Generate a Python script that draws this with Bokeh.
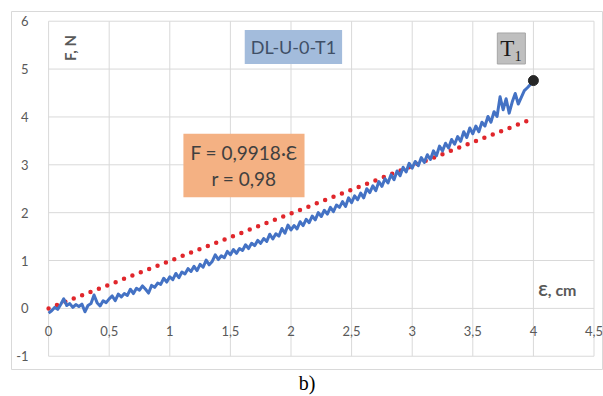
from bokeh.plotting import figure
from bokeh.models import Range1d, FixedTicker, Label, Title
from bokeh.embed import file_html
from bokeh.resources import INLINE

# ---- data ----
strain = [0.0, 0.025, 0.05, 0.075, 0.1, 0.125, 0.15, 0.175, 0.2, 0.225,
          0.25, 0.275, 0.3, 0.325, 0.35, 0.375, 0.4, 0.425, 0.45, 0.475,
          0.5, 0.525, 0.55, 0.575, 0.6, 0.625, 0.65, 0.675, 0.7, 0.725,
          0.75, 0.775, 0.8, 0.825, 0.85, 0.875, 0.9, 0.925, 0.95, 0.975,
          1.0, 1.025, 1.05, 1.075, 1.1, 1.125, 1.15, 1.175, 1.2, 1.225,
          1.25, 1.275, 1.3, 1.325, 1.35, 1.375, 1.4, 1.425, 1.45, 1.475,
          1.5, 1.525, 1.55, 1.575, 1.6, 1.625, 1.65, 1.675, 1.7, 1.725,
          1.75, 1.775, 1.8, 1.825, 1.85, 1.875, 1.9, 1.925, 1.95, 1.975,
          2.0, 2.025, 2.05, 2.075, 2.1, 2.125, 2.15, 2.175, 2.2, 2.225,
          2.25, 2.275, 2.3, 2.325, 2.35, 2.375, 2.4, 2.425, 2.45, 2.475,
          2.5, 2.525, 2.55, 2.575, 2.6, 2.625, 2.65, 2.675, 2.7, 2.725,
          2.75, 2.775, 2.8, 2.825, 2.85, 2.875, 2.9, 2.925, 2.95, 2.975,
          3.0, 3.025, 3.05, 3.075, 3.1, 3.125, 3.15, 3.175, 3.2, 3.225,
          3.25, 3.275, 3.3, 3.325, 3.35, 3.375, 3.4, 3.425, 3.45, 3.475,
          3.5, 3.525, 3.55, 3.575, 3.6, 3.625, 3.65, 3.675, 3.7, 3.725,
          3.75, 3.775, 3.8, 3.825, 3.85, 3.875, 3.9, 3.925, 3.95, 3.975,
          4.0]

force = [-0.10, -0.05, 0.02, -0.02, 0.08, 0.20, 0.06, 0.10, 0.02, 0.08,
         0.04, 0.09, -0.07, 0.06, 0.10, 0.28, 0.12, 0.05, 0.16, 0.12,
         0.20, 0.26, 0.16, 0.30, 0.24, 0.31, 0.27, 0.40, 0.31, 0.42,
         0.38, 0.47, 0.40, 0.32, 0.48, 0.44, 0.53, 0.50, 0.63, 0.55,
         0.66, 0.60, 0.73, 0.64, 0.76, 0.72, 0.83, 0.77, 0.88, 0.79,
         0.92, 0.86, 1.01, 0.91, 0.98, 1.12, 1.02, 1.10, 1.06, 1.19,
         1.12, 1.23, 1.15, 1.25, 1.21, 1.33, 1.25, 1.36, 1.31, 1.42,
         1.36, 1.46, 1.40, 1.55, 1.45, 1.56, 1.51, 1.67, 1.57, 1.74,
         1.64, 1.73, 1.66, 1.81, 1.73, 1.86, 1.79, 1.93, 1.85, 2.00,
         1.92, 2.05, 1.97, 2.11, 2.02, 2.16, 2.11, 2.23, 2.13, 2.31,
         2.21, 2.35, 2.27, 2.41, 2.31, 2.50, 2.42, 2.56, 2.46, 2.65,
         2.55, 2.71, 2.62, 2.79, 2.69, 2.87, 2.77, 2.95, 2.85, 3.03,
         2.93, 3.07, 2.98, 3.15, 3.05, 3.21, 3.11, 3.29, 3.19, 3.39,
         3.29, 3.45, 3.35, 3.53, 3.43, 3.59, 3.49, 3.69, 3.57, 3.77,
         3.65, 3.81, 3.69, 3.89, 3.81, 4.01, 3.89, 4.11, 4.01, 4.42,
         4.15, 4.38, 4.08, 4.31, 4.49, 4.27, 4.41, 4.55, 4.61, 4.68,
         4.76]

trend_x = [0.0, 4.0]
trend_y = [0.0, 3.967]

x_ticks = [0, 0.5, 1, 1.5, 2, 2.5, 3, 3.5, 4, 4.5]
x_labels = ["0", "0,5", "1", "1,5", "2", "2,5", "3", "3,5", "4", "4,5"]
y_ticks = [-1, 0, 1, 2, 3, 4, 5, 6]
y_labels = ["-1", "0", "1", "2", "3", "4", "5", "6"]

sample_name = "DL-U-0-T1"
equation_text = "F = 0,9918·Ɛ\nr = 0,98"
point_name = "T₁"

# ---- figure ----
W, H = 603, 396
p = figure(width=W, height=H, output_backend="svg", toolbar_location=None,
           x_range=Range1d(-0.306, 4.570), y_range=Range1d(-1.277, 6.203),
           min_border_left=11, min_border_right=1, min_border_top=11,
           min_border_bottom=27)
p.background_fill_color = "white"
p.border_fill_color = "white"
p.outline_line_color = "#d9d9d9"
p.outline_line_width = 1
p.xgrid.visible = False
p.ygrid.visible = False

GRID = "#d9d9d9"
TXT = "#595959"
FONT = "Lato"

# grid lines from tick arrays
p.segment(x0=x_ticks, y0=[y_ticks[0]] * len(x_ticks), x1=x_ticks,
          y1=[y_ticks[-1]] * len(x_ticks), line_color=GRID, line_width=1)
p.segment(x0=[x_ticks[0]] * len(y_ticks), y0=y_ticks, x1=[x_ticks[-1]] * len(y_ticks),
          y1=y_ticks, line_color=GRID, line_width=1)

# axes placed inside the plot
for ax in (p.xaxis[0], p.yaxis[0]):
    ax.fixed_location = 0
    ax.axis_line_color = None
    ax.major_tick_line_color = None
    ax.minor_tick_line_color = None
    ax.major_label_text_color = TXT
    ax.major_label_text_font = FONT
    ax.major_label_text_font_size = "13px"

p.xaxis.ticker = FixedTicker(ticks=x_ticks)
p.xaxis.major_label_overrides = {float(t): l for t, l in zip(x_ticks, x_labels)}
p.xaxis.major_label_standoff = 12
p.yaxis.ticker = FixedTicker(ticks=y_ticks)
p.yaxis.major_label_overrides = {float(t): l for t, l in zip(y_ticks, y_labels)}
p.yaxis.major_label_standoff = 14

# trend line (dotted)
p.line(trend_x, trend_y, line_color="#e0262b", line_width=4.5,
       line_dash="0 9", line_cap="round")

# measured curve
p.line(strain, force, line_color="#4472c4", line_width=3, line_join="round")

# end point
p.scatter([strain[-1]], [force[-1]], size=10, color="#262626")

# annotations
p.add_layout(Label(x=0.18, y=5.44, text="F, N", angle=1.5708,
                   text_align="center", text_baseline="middle",
                   text_font=FONT, text_font_style="bold",
                   text_font_size="15px", text_color=TXT))
p.add_layout(Label(x=4.04, y=0.39, text="Ɛ, cm",
                   text_align="left", text_baseline="middle",
                   text_font=FONT, text_font_style="bold",
                   text_font_size="16px", text_color=TXT))
p.add_layout(Label(x=2.02, y=5.46, text=sample_name,
                   text_align="center", text_baseline="middle",
                   text_font=FONT, text_font_size="18px", text_color="#3f4f66",
                   background_fill_color="#a3bcdc", padding=6))
p.add_layout(Label(x=3.818, y=5.43, text=point_name,
                   text_align="center", text_baseline="middle",
                   text_font="Liberation Serif", text_font_size="23px",
                   text_color="#1a1a1a",
                   background_fill_color="#bfbfbf",
                   border_line_color="#a6a6a6", padding=3))
p.add_layout(Label(x=1.612, y=2.986, text=equation_text,
                   text_align="center", text_baseline="middle",
                   text_font=FONT, text_font_size="19px", text_color="#404040",
                   text_line_height=1.15,
                   background_fill_color="#f4b183", padding=7))
p.add_layout(Title(text="b)", align="center", text_font="Liberation Serif",
                   text_font_size="20px", text_font_style="normal",
                   text_color="black", standoff=0, offset=0), "below")

open("out.html", "w").write(file_html(p, INLINE))
